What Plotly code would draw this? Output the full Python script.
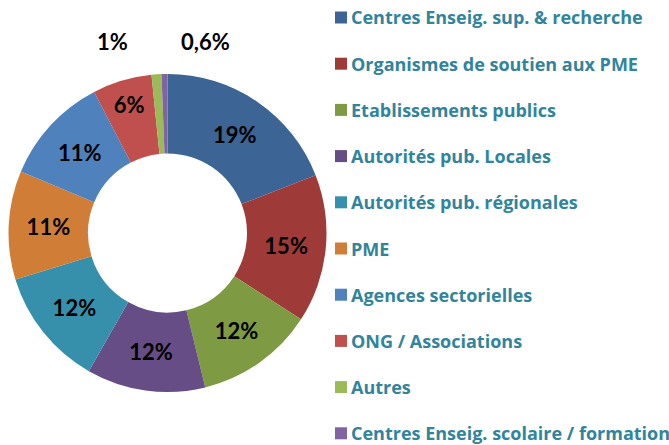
import plotly.graph_objects as go

categories = [
    "Centres Enseig. sup. & recherche",
    "Organismes de soutien aux PME",
    "Etablissements publics",
    "Autorités pub. Locales",
    "Autorités pub. régionales",
    "PME",
    "Agences sectorielles",
    "ONG / Associations",
    "Autres",
    "Centres Enseig. scolaire / formation",
]
values = [19, 15, 12, 12, 12, 11, 11, 6, 1, 0.6]
colors = ["#3C6494", "#9E3B38", "#7E9A42", "#664D86", "#3690AB",
          "#D07D37", "#4F81BD", "#C0504D", "#9BBB59", "#8064A2"]

W, H = 669, 445
pct = [f"{v:g}%".replace(".", ",") for v in values]
outside = [8, 9]  # small slices labelled above the ring
inside_text = ["" if i in outside else t for i, t in enumerate(pct)]

fig = go.Figure(go.Pie(
    labels=categories,
    values=values,
    text=inside_text,
    textinfo="text",
    texttemplate="%{text}",
    textposition="inside",
    insidetextorientation="horizontal",
    sort=False,
    direction="clockwise",
    rotation=0,
    hole=0.5,
    marker=dict(colors=colors, line=dict(color="white", width=0)),
    textfont=dict(family="Lato", size=22, color="black", weight="bold"),
    domain=dict(x=[8 / W, 327 / W], y=[1 - 392 / H, 1 - 74 / H]),
    showlegend=False,
    hoverinfo="label+percent",
))

annotations = []
shapes = []
# outside labels for small slices
for i, xpx in zip(outside, [112, 205]):
    annotations.append(dict(
        x=xpx / W, y=1 - 42 / H, xref="paper", yref="paper",
        text=pct[i], showarrow=False,
        font=dict(family="Lato", size=22, color="black", weight="bold"),
        xanchor="center", yanchor="middle"))

# custom legend
y0, step = 17.5, 46.2
for i, (name, col) in enumerate(zip(categories, colors)):
    yc = y0 + i * step
    shapes.append(dict(type="rect", xref="paper", yref="paper",
                       x0=335 / W, x1=347 / W, y0=1 - (yc + 6) / H, y1=1 - (yc - 6) / H,
                       fillcolor=col, line=dict(width=0)))
    annotations.append(dict(
        x=349 / W, y=1 - yc / H, xref="paper", yref="paper",
        text=name, showarrow=False, xanchor="left", yanchor="middle",
        font=dict(family="Open Sans", size=18, color="#31849B", weight="bold")))

fig.update_layout(
    width=W, height=H,
    margin=dict(l=0, r=0, t=0, b=0),
    paper_bgcolor="white", plot_bgcolor="white",
    annotations=annotations, shapes=shapes,
)
fig.write_html("out.html")
